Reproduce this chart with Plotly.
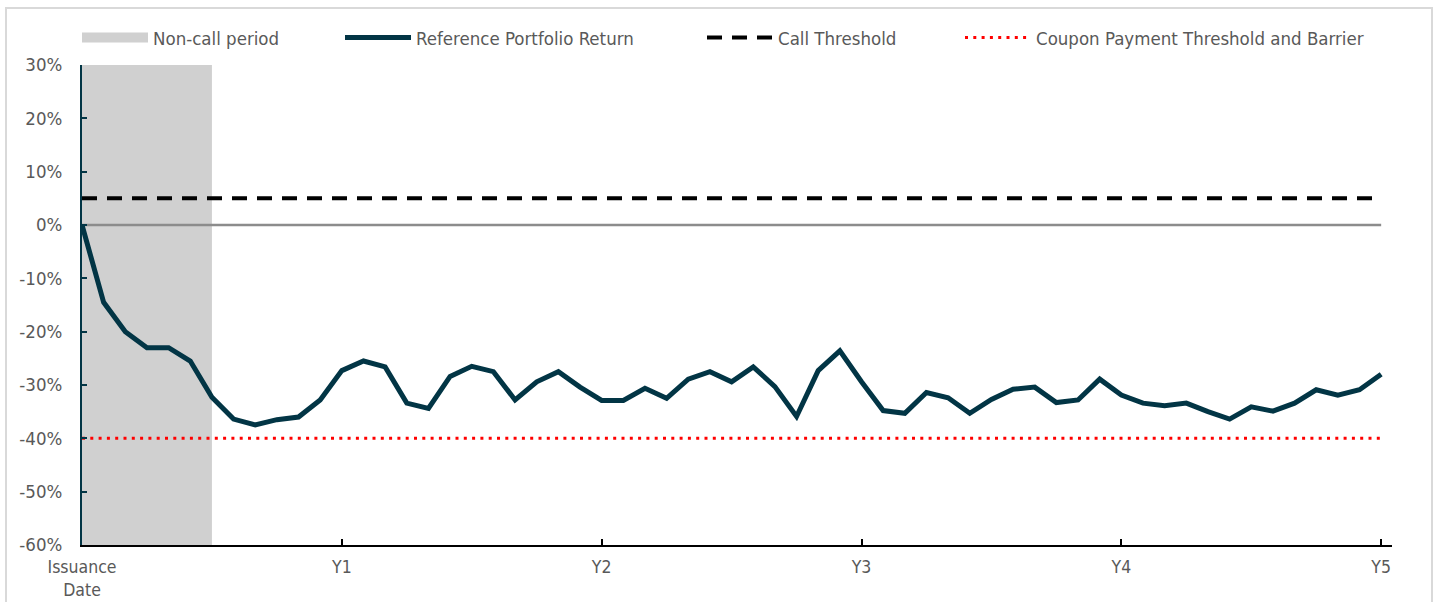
import plotly.graph_objects as go

# ---- data ----
months = list(range(61))
portfolio_return = [
    0, -14.5, -20, -23, -23, -25.5, -32.3, -36.4, -37.5, -36.5, -36, -32.8,
    -27.3, -25.5, -26.6, -33.4, -34.4, -28.4, -26.5, -27.5, -32.8, -29.4, -27.5, -30.4,
    -32.9, -32.9, -30.6, -32.5, -28.9, -27.5, -29.4, -26.6, -30.3, -35.9, -27.3, -23.6,
    -29.4, -34.8, -35.3, -31.4, -32.4, -35.3, -32.7, -30.8, -30.4, -33.3, -32.8, -28.9,
    -31.9, -33.4, -33.9, -33.4, -35.0, -36.4, -34.1, -34.9, -33.4, -30.9, -31.9, -30.9, -28.0,
]
call_threshold = 5
coupon_barrier = -40
non_call_start = 0
non_call_end = 6
y_min, y_max = -60, 30
y_tick_vals = [30, 20, 10, 0, -10, -20, -30, -40, -50, -60]
y_tick_labels = ["30%", "20%", "10%", "0%", "-10%", "-20%", "-30%", "-40%", "-50%", "-60%"]
tick_months = [0, 12, 24, 36, 48, 60]
tick_labels = ["Issuance<br>Date", "Y1", "Y2", "Y3", "Y4", "Y5"]

FONT = "DejaVu Sans Condensed"
FS = 18.5
GRAY_TXT = "#595959"
NAVY = "#023545"
SHADE = "#d0d0d0"

fig = go.Figure()

# non-call period shading (legend shown by a proxy entry below)
fig.add_trace(go.Bar(
    x=[(non_call_start + non_call_end) / 2], y=[y_max - y_min], base=[y_min],
    width=[non_call_end - non_call_start],
    marker=dict(color=SHADE, line=dict(width=0)),
    name="Non-call period", showlegend=False, hoverinfo="skip",
))
fig.add_trace(go.Scatter(
    x=[None], y=[None], mode="lines", line=dict(color=SHADE, width=14),
    name="Non-call period", legend="legend", hoverinfo="skip",
))
fig.add_trace(go.Scatter(
    x=[months[0], months[-1]], y=[0, 0], mode="lines",
    line=dict(color="#8c8c8c", width=2.5), showlegend=False, hoverinfo="skip",
))
fig.add_trace(go.Scatter(
    x=[months[0], months[-1]], y=[call_threshold, call_threshold], mode="lines",
    line=dict(color="black", width=4, dash="15px,10px"),
    name="Call Threshold", legend="legend3",
))
fig.add_trace(go.Scatter(
    x=[months[0], months[-1]], y=[coupon_barrier, coupon_barrier], mode="lines",
    line=dict(color="#ff0000", width=3, dash="3px,5.3px"),
    name="Coupon Payment Threshold and Barrier", legend="legend4",
))
fig.add_trace(go.Scatter(
    x=months, y=portfolio_return, mode="lines",
    line=dict(color=NAVY, width=5),
    name="Reference Portfolio Return", legend="legend2",
))

L, R, T, B = 82, 1392, 65, 545
W, H = 1439, 602
pw, ph = R - L, B - T

def px_x(p):
    return (p - L) / pw

def px_y(p):
    return (B - p) / ph

legend_common = dict(orientation="h", xanchor="left", yanchor="middle",
                     y=px_y(38), itemwidth=66, bgcolor="rgba(0,0,0,0)",
                     font=dict(family=FONT, size=FS, color=GRAY_TXT))

fig.update_layout(
    width=W, height=H,
    margin=dict(l=L, r=W - R, t=T, b=H - B, pad=0, autoexpand=False),
    paper_bgcolor="white", plot_bgcolor="white",
    font=dict(family=FONT, size=FS, color=GRAY_TXT),
    showlegend=True,
    legend=dict(x=px_x(77), **legend_common),
    legend2=dict(x=px_x(340), **legend_common),
    legend3=dict(x=px_x(702), **legend_common),
    legend4=dict(x=px_x(960), **legend_common),
    xaxis=dict(
        range=[0, 60.5], tickmode="array", tickvals=tick_months, ticktext=tick_labels,
        showgrid=False, zeroline=False, showline=True, linecolor="black", linewidth=2,
        ticks="inside", ticklen=6, tickwidth=2, tickcolor="black", automargin=False,
        tickfont=dict(family=FONT, size=17.5, color=GRAY_TXT), ticklabelstandoff=5,
    ),
    yaxis=dict(
        range=[y_min, y_max], tickmode="array", tickvals=y_tick_vals, ticktext=y_tick_labels,
        showgrid=False, zeroline=False, showline=True, linecolor=NAVY, linewidth=2,
        ticks="inside", ticklen=5, tickwidth=2, tickcolor=NAVY, automargin=False,
        tickfont=dict(family=FONT, size=FS, color=GRAY_TXT), ticklabelstandoff=14,
    ),
    shapes=[dict(type="rect", xref="paper", yref="paper",
                 x0=px_x(6), x1=px_x(1432), y0=px_y(640), y1=px_y(8),
                 line=dict(color="#d9d9d9", width=2), layer="below")],
)

fig.write_html("out.html", config={"displayModeBar": False},
               post_script="document.body.style.margin='0';")
